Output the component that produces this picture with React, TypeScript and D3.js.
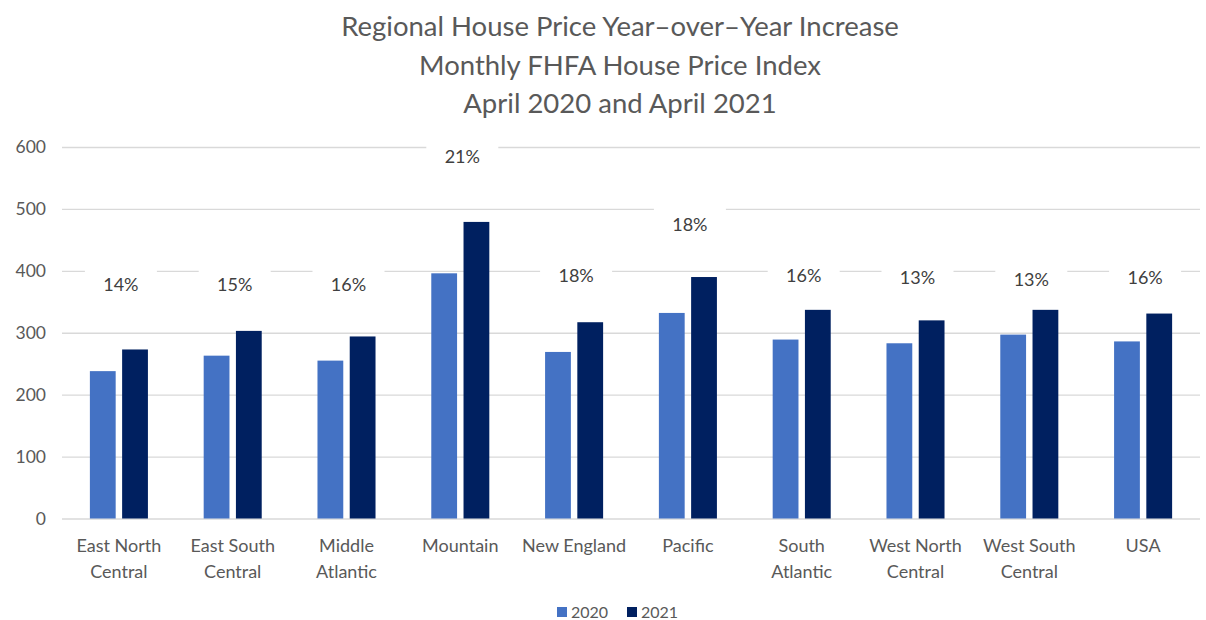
import * as d3 from 'd3';
import { useEffect, useRef } from 'react';

const categories = [
  'East North Central', 'East South Central', 'Middle Atlantic', 'Mountain', 'New England',
  'Pacific', 'South Atlantic', 'West North Central', 'West South Central', 'USA'
];
const categoryLines = [
  ['East North', 'Central'], ['East South', 'Central'], ['Middle', 'Atlantic'], ['Mountain'], ['New England'],
  ['Pacific'], ['South', 'Atlantic'], ['West North', 'Central'], ['West South', 'Central'], ['USA']
];
const series = ['2020', '2021'];
const values2020 = [238, 263, 255, 396, 269, 332, 289, 283, 297, 286];
const values2021 = [273, 303, 294, 479, 317, 390, 337, 320, 337, 331];
const pctLabels = ['14%', '15%', '16%', '21%', '18%', '18%', '16%', '13%', '13%', '16%'];
// value on the y scale where each percent label sits
const pctLabelAt = [377, 377, 378, 584, 392, 474, 392, 389, 386, 389];
const yTicks = [0, 100, 200, 300, 400, 500, 600];
const titleLines = [
  'Regional House Price Year\u2013over\u2013Year Increase',
  'Monthly FHFA House Price Index',
  'April 2020 and April 2021'
];

export default function App() {
  const ref = useRef<HTMLDivElement>(null);

  useEffect(() => {
    const width = 1206;
    const height = 620;
    const margin = { top: 147, right: 6, bottom: 101, left: 62 };
    const colors = ['#4472C4', '#002060'];
    const textColor = '#595959';
    const font = 'Lato, "Open Sans", sans-serif';

    const svg = d3
      .create('svg')
      .attr('width', width)
      .attr('height', height)
      .style('position', 'absolute')
      .style('left', '0px')
      .style('top', '0px')
      .style('background', '#fff');

    const x0 = d3
      .scaleBand()
      .domain(categories)
      .range([margin.left, width - margin.right])
      .paddingInner(0.49)
      .paddingOuter(0.245);

    const x1 = d3
      .scaleBand()
      .domain(series)
      .range([0, x0.bandwidth()])
      .paddingInner(0.2);

    const y = d3
      .scaleLinear()
      .domain([0, 600])
      .range([height - margin.bottom - 0.5, margin.top]);

    // title
    svg
      .append('g')
      .selectAll('text')
      .data(titleLines)
      .join('text')
      .attr('x', 620)
      .attr('y', (d, i) => 36 + i * 38.5)
      .attr('text-anchor', 'middle')
      .attr('font-family', font)
      .attr('font-size', 27.5)
      .attr('fill', textColor)
      .text(d => d);

    // gridlines
    svg
      .append('g')
      .attr('transform', `translate(${margin.left},0)`)
      .call(
        d3.axisRight(y)
          .tickValues(yTicks)
          .tickSize(width - margin.left - margin.right)
          .tickFormat(() => '')
      )
      .call(g => g.select('.domain').remove())
      .call(g => g.selectAll('line').attr('stroke', '#d9d9d9').attr('stroke-width', 1.3));

    // y labels
    svg
      .append('g')
      .attr('transform', `translate(${margin.left},0)`)
      .call(d3.axisLeft(y).tickValues(yTicks).tickSize(0).tickPadding(16))
      .call(g => g.select('.domain').remove())
      .call(g =>
        g.selectAll('text')
          .attr('font-family', font)
          .attr('font-size', 17.5)
          .attr('fill', textColor)
      );

    // bars
    const groups = svg
      .append('g')
      .selectAll('g')
      .data(categories)
      .join('g')
      .attr('transform', d => `translate(${x0(d)},0)`);

    groups
      .selectAll('rect')
      .data((d, i) => [
        { key: '2020', value: values2020[i] },
        { key: '2021', value: values2021[i] }
      ])
      .join('rect')
      .attr('x', d => x1(d.key) as number)
      .attr('y', d => y(d.value))
      .attr('width', x1.bandwidth())
      .attr('height', d => y(0) - y(d.value))
      .attr('fill', (d, i) => colors[i]);

    // percent labels with white boxes
    const labels = svg
      .append('g')
      .selectAll('g')
      .data(categories)
      .join('g')
      .attr('transform', (d, i) => `translate(${(x0(d) as number) + x0.bandwidth() / 2 + 2},${y(pctLabelAt[i])})`);

    labels
      .append('rect')
      .attr('x', -36)
      .attr('y', -19)
      .attr('width', 72)
      .attr('height', 38)
      .attr('fill', '#fff');

    labels
      .append('text')
      .attr('text-anchor', 'middle')
      .attr('dy', '0.35em')
      .attr('font-family', font)
      .attr('font-size', 18)
      .attr('fill', '#404040')
      .text((d, i) => pctLabels[i]);

    // category labels
    svg
      .append('g')
      .selectAll('text')
      .data(categories)
      .join('text')
      .attr('x', d => (x0(d) as number) + x0.bandwidth() / 2)
      .attr('y', 552)
      .attr('text-anchor', 'middle')
      .attr('font-family', font)
      .attr('font-size', 18)
      .attr('fill', textColor)
      .selectAll('tspan')
      .data((d, i) => categoryLines[i])
      .join('tspan')
      .attr('x', function () {
        return (this.parentNode as SVGTextElement).getAttribute('x');
      })
      .attr('dy', (d, i) => (i === 0 ? 0 : 26))
      .text(d => d);

    // legend
    const legend = svg
      .append('g')
      .selectAll('g')
      .data(series)
      .join('g')
      .attr('transform', (d, i) => `translate(${557 + i * 70},612)`);

    legend
      .append('rect')
      .attr('x', 0)
      .attr('y', -5)
      .attr('width', 10)
      .attr('height', 10)
      .attr('fill', (d, i) => colors[i]);

    legend
      .append('text')
      .attr('x', 14)
      .attr('dy', '0.35em')
      .attr('font-family', font)
      .attr('font-size', 16)
      .attr('fill', textColor)
      .text(d => d);

    ref.current?.replaceChildren(svg.node() as SVGSVGElement);
  }, []);

  return <div ref={ref}></div>;
}
